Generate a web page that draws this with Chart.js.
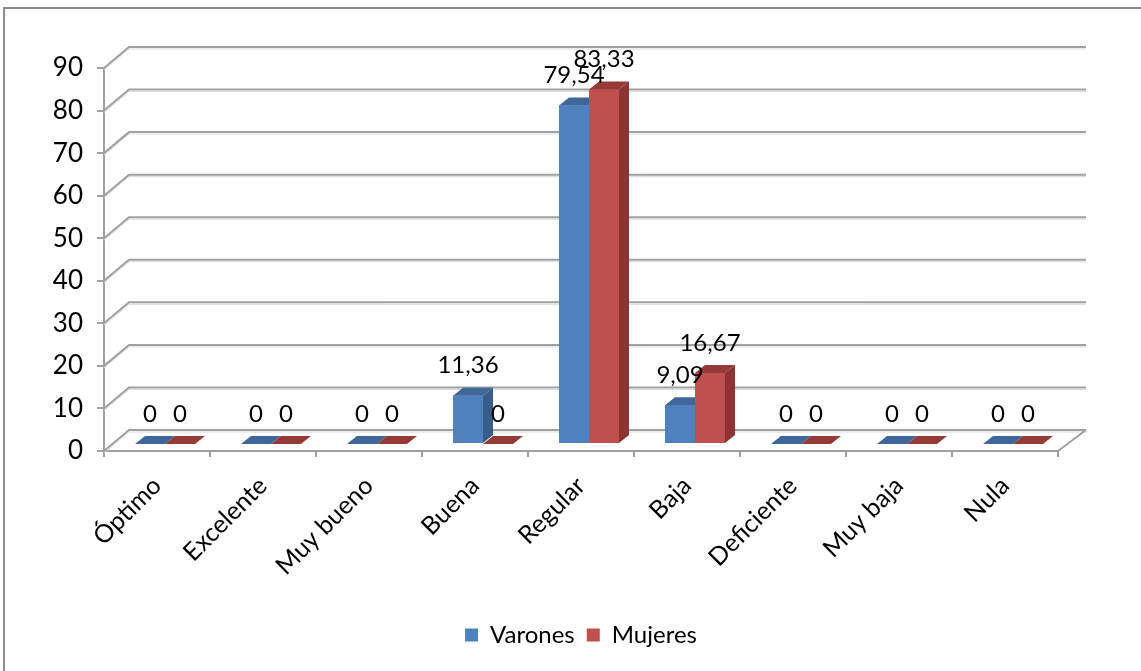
<!DOCTYPE html>
<html>
<head>
<meta charset="utf-8">
<script src="https://cdn.jsdelivr.net/npm/chart.js@4.4.0/dist/chart.umd.min.js"></script>
<style>
  body { margin: 0; background: #fff; }
  #wrap { position: relative; width: 1141px; height: 671px; overflow: hidden; }
  #frame { position: absolute; left: 3px; top: 7px; right: -10px; bottom: -10px;
           border-top: 2px solid #8c8c8c; border-left: 2px solid #8c8c8c; }
  canvas { position: absolute; left: 0; top: 0; }
</style>
</head>
<body>
<div id="wrap">
  <div id="frame"></div>
  <canvas id="chart" width="1141" height="671"></canvas>
</div>
<script>
// datos del grafico
const categorias = ['Óptimo', 'Excelente', 'Muy bueno', 'Buena', 'Regular', 'Baja', 'Deficiente', 'Muy baja', 'Nula'];
const varones = [0, 0, 0, 11.36, 79.54, 9.09, 0, 0, 0];
const mujeres = [0, 0, 0, 0, 83.33, 16.67, 0, 0, 0];
const yTicks = [0, 10, 20, 30, 40, 50, 60, 70, 80, 90];

const FONT = 'Lato';
const WALL_DX = 25, WALL_DY = -21;   // profundidad de la pared del fondo
const BAR_DX = 8, BAR_DY = -7;       // plano frontal de las barras
const DEPTH_X = 10, DEPTH_Y = -8;    // profundidad de cada barra

// colores: frente, lado, tapa
const coloresBarra = [
    { front: '#4F81BD', side: '#385D8A', top: '#3F679A' },
    { front: '#C0504D', side: '#8C3431', top: '#963A38' }
];

function poly(ctx, pts, color) {
    ctx.beginPath();
    ctx.moveTo(pts[0][0], pts[0][1]);
    for (let i = 1; i < pts.length; i++) ctx.lineTo(pts[i][0], pts[i][1]);
    ctx.closePath();
    ctx.fillStyle = color;
    ctx.fill();
}

// efecto 3D: pared, suelo, caras de barras, etiquetas
const plugin3D = {
    id: 'plugin3D',
    beforeDatasetsDraw(chart) {
        const ctx = chart.ctx;
        const area = chart.chartArea;
        const y = chart.scales.y;
        ctx.save();
        yTicks.forEach(function(v) {
            const py = y.getPixelForValue(v);
            const pts = [[area.left, py], [area.left + WALL_DX, py + WALL_DY], [area.right + WALL_DX + 3, py + WALL_DY]];
            // sombra clara
            ctx.strokeStyle = '#dadada';
            ctx.lineWidth = 1;
            ctx.beginPath();
            ctx.moveTo(pts[0][0], pts[0][1] + 2);
            ctx.lineTo(pts[1][0], pts[1][1] + 2);
            ctx.lineTo(pts[2][0], pts[2][1] + 2);
            ctx.stroke();
            ctx.strokeStyle = '#a0a0a0';
            ctx.lineWidth = 2;
            ctx.beginPath();
            ctx.moveTo(pts[0][0], pts[0][1]);
            ctx.lineTo(pts[1][0], pts[1][1]);
            ctx.lineTo(pts[2][0], pts[2][1]);
            if (v === 0) {
                ctx.moveTo(area.right, py);
                ctx.lineTo(area.right + WALL_DX + 3, py + WALL_DY);
            }
            ctx.stroke();
        });
        // las barras se dibujan en el plano medio del suelo
        ctx.translate(BAR_DX, BAR_DY);
    },
    afterDatasetsDraw(chart) {
        const ctx = chart.ctx;
        const metas = chart.data.datasets.map(function(ds, i) { return chart.getDatasetMeta(i); });
        // por categoria: Varones y luego Mujeres (frente, lado, tapa)
        categorias.forEach(function(cat, j) {
            metas.forEach(function(meta, i) {
                const c = coloresBarra[i];
                const p = meta.data[j].getProps(['x', 'y', 'base', 'width'], true);
                const l = p.x - p.width / 2, r = p.x + p.width / 2;
                if (p.base - p.y > 0.5) {
                    poly(ctx, [[l, p.y], [r, p.y], [r, p.base], [l, p.base]], c.front);
                    poly(ctx, [[r, p.y], [r + DEPTH_X, p.y + DEPTH_Y], [r + DEPTH_X, p.base + DEPTH_Y], [r, p.base]], c.side);
                }
                poly(ctx, [[l, p.y], [l + DEPTH_X, p.y + DEPTH_Y], [r + DEPTH_X, p.y + DEPTH_Y], [r, p.y]], c.top);
            });
        });
        ctx.restore();

        // etiquetas de valores
        ctx.save();
        ctx.font = '24px ' + FONT;
        ctx.fillStyle = '#000';
        ctx.textAlign = 'center';
        ctx.textBaseline = 'middle';
        chart.data.datasets.forEach(function(ds, i) {
            metas[i].data.forEach(function(bar, j) {
                const p = bar.getProps(['x', 'y'], true);
                const txt = String(ds.data[j]).replace('.', ',');
                ctx.fillText(txt, p.x + BAR_DX, p.y + BAR_DY - 30);
            });
        });
        ctx.restore();
    }
};

new Chart(document.getElementById('chart'), {
    type: 'bar',
    data: {
        labels: categorias,
        datasets: [
            { label: 'Varones', data: varones, backgroundColor: coloresBarra[0].front,
              categoryPercentage: 0.566, barPercentage: 1.0 },
            { label: 'Mujeres', data: mujeres, backgroundColor: coloresBarra[1].front,
              categoryPercentage: 0.566, barPercentage: 1.0 }
        ]
    },
    options: {
        responsive: false,
        animation: false,
        layout: { padding: { top: 68, right: 83, bottom: 14, left: 0 } },
        plugins: {
            tooltip: { enabled: false },
            legend: {
                position: 'bottom',
                fullSize: false,
                labels: {
                    font: { family: FONT, size: 24 },
                    color: '#000',
                    boxWidth: 13,
                    boxHeight: 13,
                    padding: 12
                }
            }
        },
        scales: {
            x: {
                grid: { drawOnChartArea: false, color: '#a0a0a0', tickLength: 6, lineWidth: 2 },
                border: { color: '#a0a0a0', width: 2 },
                ticks: {
                    font: { family: FONT, size: 25 },
                    color: '#000',
                    maxRotation: 45,
                    minRotation: 45,
                    padding: 14
                },
                afterFit: function(scale) { scale.height = 160; }
            },
            y: {
                min: 0,
                max: 90,
                grid: { drawOnChartArea: false, color: '#a0a0a0', tickLength: 7, lineWidth: 2 },
                border: { color: '#a0a0a0', width: 2 },
                ticks: {
                    stepSize: 10,
                    font: { family: FONT, size: 26 },
                    color: '#000',
                    padding: 14
                },
                afterFit: function(scale) { scale.width = 104; }
            }
        }
    },
    plugins: [plugin3D]
});
</script>
</body>
</html>
